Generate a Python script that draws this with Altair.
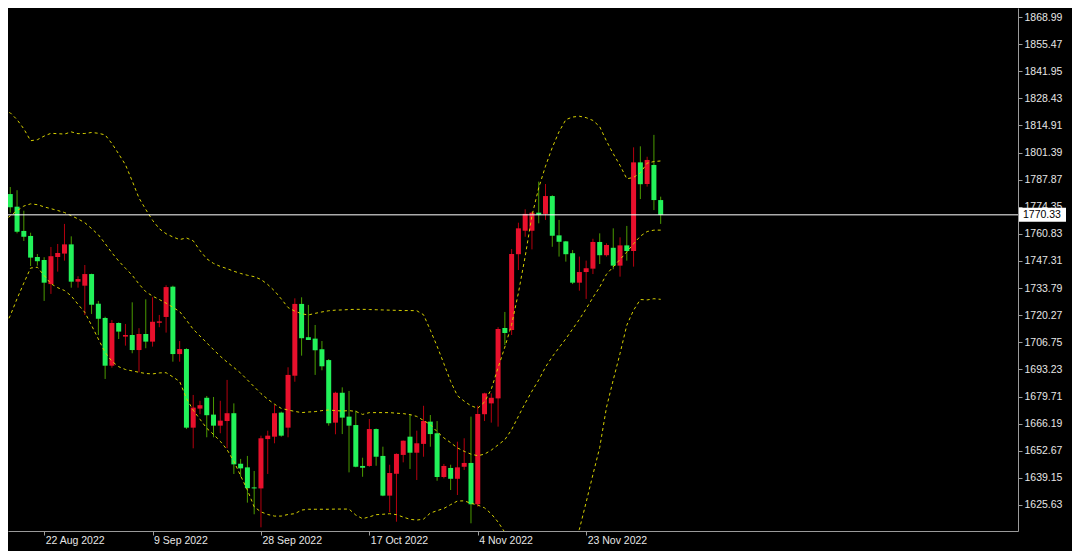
import altair as alt
import pandas as pd

# ---------------- data ----------------
opens = [1799.8, 1780.7, 1774.4, 1762.3, 1759.8, 1749.3, 1747.8, 1735.8, 1749.3, 1751.0,
         1755.6, 1737.0, 1735.0, 1740.8, 1726.0, 1718.9, 1695.1, 1716.4, 1709.6, 1710.4,
         1702.9, 1710.9, 1707.1, 1716.5, 1719.4, 1734.5, 1700.9, 1703.4, 1664.2, 1673.7,
         1679.1, 1670.7, 1665.2, 1667.5, 1671.4, 1646.2, 1644.4, 1634.4, 1633.9, 1658.5,
         1659.7, 1671.7, 1664.2, 1690.1, 1725.9, 1709.3, 1708.6, 1703.3, 1697.9, 1666.7,
         1681.6, 1669.7, 1665.5, 1645.1, 1645.1, 1663.5, 1650.1, 1630.3, 1641.2, 1650.6,
         1659.7, 1651.7, 1656.1, 1667.2, 1661.4, 1639.6, 1644.1, 1638.7, 1644.7, 1646.6,
         1626.0, 1670.9, 1676.3, 1678.8, 1713.9, 1712.9, 1750.7, 1762.4, 1762.4, 1771.4,
         1770.8, 1779.7, 1760.1, 1757.1, 1751.2, 1736.5, 1741.8, 1743.5, 1756.8, 1750.2,
         1753.9, 1745.0, 1755.1, 1752.3, 1796.5, 1785.7, 1795.2, 1777.7]
highs = [1801.5, 1784.2, 1782.6, 1772.4, 1761.4, 1750.8, 1749.2, 1754.3, 1755.8, 1765.8,
         1759.6, 1739.7, 1745.3, 1741.0, 1727.4, 1719.5, 1717.9, 1716.7, 1715.9, 1726.7,
         1713.8, 1728.2, 1729.2, 1720.4, 1735.2, 1735.0, 1707.4, 1703.8, 1680.5, 1677.6,
         1680.0, 1679.5, 1677.6, 1688.0, 1676.3, 1648.6, 1650.1, 1642.6, 1660.2, 1662.7,
         1675.5, 1672.2, 1694.3, 1728.7, 1729.2, 1725.4, 1715.4, 1707.4, 1698.4, 1682.1,
         1684.3, 1682.5, 1672.7, 1649.2, 1668.5, 1663.8, 1654.7, 1645.7, 1651.4, 1657.8,
         1670.9, 1662.7, 1675.1, 1670.5, 1667.5, 1646.1, 1645.7, 1657.2, 1658.9, 1669.7,
         1675.1, 1681.6, 1681.3, 1714.3, 1721.9, 1753.3, 1766.4, 1773.1, 1771.9, 1786.9,
         1785.7, 1780.1, 1767.8, 1757.3, 1752.8, 1749.5, 1747.5, 1758.4, 1761.1, 1756.1,
         1763.6, 1759.1, 1764.8, 1804.0, 1804.5, 1799.3, 1810.2, 1779.4]
lows = [1772.4, 1771.4, 1761.1, 1757.3, 1744.8, 1745.0, 1727.4, 1730.9, 1742.0, 1747.5,
        1734.0, 1734.0, 1720.4, 1720.9, 1710.4, 1688.5, 1694.1, 1708.4, 1705.1, 1701.3,
        1691.8, 1703.8, 1704.6, 1714.3, 1711.6, 1697.1, 1697.1, 1663.5, 1653.9, 1670.9,
        1659.4, 1659.4, 1661.4, 1653.9, 1641.1, 1639.7, 1626.8, 1621.0, 1614.5, 1641.1,
        1656.4, 1659.7, 1659.4, 1687.1, 1700.1, 1707.9, 1690.5, 1692.8, 1665.2, 1660.9,
        1661.0, 1641.9, 1644.4, 1639.7, 1644.7, 1645.2, 1630.0, 1622.0, 1617.3, 1646.9,
        1643.6, 1638.1, 1649.7, 1654.7, 1637.7, 1638.9, 1633.1, 1630.6, 1643.1, 1616.5,
        1624.8, 1667.5, 1666.7, 1664.7, 1705.4, 1710.4, 1742.8, 1759.4, 1753.1, 1766.1,
        1767.8, 1754.4, 1749.5, 1747.0, 1735.8, 1732.5, 1728.4, 1740.8, 1745.8, 1749.5,
        1743.2, 1739.5, 1747.5, 1744.5, 1778.2, 1784.4, 1772.7, 1765.8]
closes = [1780.6, 1774.1, 1761.9, 1759.4, 1749.0, 1747.2, 1736.5, 1749.7, 1751.3, 1755.6,
          1737.0, 1738.3, 1740.8, 1725.5, 1718.5, 1695.1, 1716.4, 1712.1, 1710.4, 1702.9,
          1710.9, 1707.1, 1717.0, 1717.2, 1734.3, 1700.9, 1703.4, 1664.2, 1674.2, 1675.4,
          1670.4, 1665.2, 1667.7, 1671.4, 1645.9, 1643.9, 1634.0, 1633.9, 1658.9, 1660.2,
          1671.4, 1660.2, 1690.5, 1725.9, 1708.8, 1707.9, 1702.8, 1694.8, 1666.4, 1681.6,
          1669.2, 1665.2, 1644.7, 1644.2, 1663.5, 1649.7, 1630.3, 1641.6, 1651.1, 1657.7,
          1651.7, 1656.4, 1667.5, 1661.0, 1639.6, 1645.1, 1638.7, 1644.4, 1646.6, 1626.0,
          1671.0, 1681.3, 1679.1, 1713.4, 1711.4, 1750.8, 1763.6, 1770.8, 1771.4, 1770.4,
          1779.7, 1759.9, 1756.9, 1750.7, 1736.5, 1741.8, 1743.7, 1756.8, 1750.2, 1755.3,
          1745.0, 1755.1, 1752.3, 1796.5, 1785.6, 1797.7, 1777.7, 1770.3]

upper_band = [1822.1, 1821.2, 1817.8, 1813.2, 1807.3, 1807.8, 1809.6, 1811.0, 1810.8, 1810.6,
              1811.7, 1810.8, 1810.9, 1811.4, 1811.0, 1810.2, 1805.9, 1800.7, 1795.3, 1787.2,
              1778.7, 1773.0, 1767.6, 1763.4, 1760.9, 1759.3, 1758.0, 1758.8, 1757.4, 1752.5,
              1748.4, 1746.1, 1744.6, 1743.5, 1742.2, 1741.1, 1740.2, 1739.5, 1738.1, 1735.6,
              1732.4, 1728.4, 1724.1, 1722.3, 1721.0, 1720.4, 1721.2, 1721.9, 1722.5, 1722.8,
              1722.9, 1723.1, 1723.2, 1723.2, 1723.1, 1723.0, 1722.9, 1722.8, 1722.7, 1722.6,
              1722.6, 1722.5, 1720.5, 1712.8, 1704.8, 1696.1, 1687.2, 1680.1, 1677.4, 1675.1,
              1673.9, 1677.0, 1683.4, 1694.1, 1704.4, 1715.6, 1731.4, 1749.6, 1769.9, 1783.8,
              1794.6, 1803.9, 1811.8, 1817.8, 1819.1, 1819.5, 1818.8, 1817.4, 1814.3, 1807.1,
              1800.8, 1795.0, 1788.3, 1789.0, 1791.3, 1796.1, 1796.9, 1797.2]
middle_band = [1767.3, 1769.8, 1772.4, 1774.7, 1775.8, 1775.4, 1774.3, 1773.4, 1772.5, 1771.5,
               1769.9, 1768.3, 1766.4, 1763.5, 1760.4, 1756.0, 1751.4, 1747.3, 1743.7, 1740.2,
               1735.8, 1732.0, 1729.8, 1728.1, 1726.3, 1724.2, 1722.1, 1717.8, 1713.3, 1709.9,
               1706.5, 1703.1, 1699.8, 1696.9, 1694.2, 1691.4, 1688.0, 1684.6, 1681.2, 1678.4,
               1675.9, 1673.8, 1673.0, 1672.3, 1671.7, 1672.0, 1672.2, 1672.7, 1673.0, 1672.7,
               1672.5, 1672.7, 1672.3, 1670.8, 1671.7, 1671.7, 1671.7, 1671.7, 1671.4, 1671.2,
               1670.7, 1669.8, 1667.8, 1665.7, 1662.2, 1659.1, 1656.7, 1654.1, 1652.4, 1651.0,
               1650.2, 1651.0, 1653.0, 1655.6, 1658.2, 1663.2, 1669.9, 1676.4, 1682.4, 1688.0,
               1694.4, 1699.6, 1704.1, 1708.5, 1713.4, 1718.2, 1723.5, 1729.1, 1734.3, 1740.7,
               1744.4, 1748.1, 1751.8, 1755.9, 1759.7, 1762.0, 1762.7, 1762.7]
lower_band = [1713.4, 1720.1, 1728.5, 1736.3, 1743.8, 1744.2, 1740.1, 1736.0, 1734.0, 1732.6,
              1729.9, 1725.7, 1721.7, 1715.2, 1708.4, 1701.7, 1697.3, 1694.6, 1693.2, 1692.5,
              1691.8, 1691.2, 1691.0, 1691.5, 1691.6, 1689.5, 1687.2, 1678.8, 1672.9, 1668.4,
              1663.9, 1660.8, 1657.4, 1653.2, 1647.4, 1640.2, 1633.1, 1624.7, 1622.2, 1620.9,
              1620.1, 1620.1, 1620.9, 1621.3, 1623.1, 1623.5, 1623.5, 1623.5, 1623.5, 1623.6,
              1623.6, 1623.6, 1620.6, 1618.8, 1619.7, 1620.8, 1621.0, 1621.3, 1620.8, 1619.6,
              1618.5, 1618.1, 1618.6, 1621.6, 1622.8, 1623.9, 1625.8, 1627.6, 1627.7, 1626.5,
              1625.6, 1624.2, 1621.2, 1617.1, 1612.0, 1610.8, 1608.5, 1603.2, 1594.9, 1592.2,
              1594.2, 1595.3, 1596.4, 1599.2, 1607.7, 1613.5, 1627.0, 1640.8, 1654.3, 1674.3,
              1688.0, 1701.2, 1715.3, 1722.8, 1728.1, 1727.9, 1728.5, 1728.2]

date_ticks = [6, 22, 38, 54, 70, 86]
date_labels = ["22 Aug 2022", "9 Sep 2022", "28 Sep 2022", "17 Oct 2022", "4 Nov 2022", "23 Nov 2022"]
price_ticks = [1868.99, 1855.47, 1841.95, 1828.43, 1814.91, 1801.39, 1787.87, 1774.35, 1760.83,
               1747.31, 1733.79, 1720.27, 1706.75, 1693.23, 1679.71, 1666.19, 1652.67, 1639.15, 1625.63]
last_price = 1770.33

# ---------------- tables ----------------
n = len(opens)
candles = pd.DataFrame({"idx": list(range(n)), "open": opens, "high": highs, "low": lows, "close": closes})
bands = pd.DataFrame({"idx": list(range(n)), "upper": upper_band, "middle": middle_band, "lower": lower_band})
last = pd.DataFrame({"price": [last_price], "label": [f"{last_price:.2f}"]})

FONT = "Liberation Sans"
AXIS_COL = "#9a9a9a"
RED_BODY = "#e8102c"
GREEN_BODY = "#22f25a"
RED_WICK = "#b4000f"
GREEN_WICK = "#4a9a00"

label_expr = "".join(f"datum.value == {t} ? '{l}' : " for t, l in zip(date_ticks, date_labels)) + "''"

xscale = alt.Scale(domain=[0.664, 149.74], nice=False, zero=False, padding=0)
yscale = alt.Scale(domain=[1612.66, 1873.48], nice=False, zero=False, padding=0)

x_axis = alt.Axis(values=date_ticks, labelExpr=label_expr, orient="bottom", title=None,
                  labelAlign="left", labelOffset=1, labelPadding=0, tickSize=4,
                  grid=False, labelFlush=False, labelOverlap=False)
y_axis = alt.Axis(values=price_ticks, format=".2f", orient="right", title=None,
                  tickSize=4, labelPadding=2, grid=False, labelOverlap=False, labelFlush=False)


def X(field):
    return alt.X(field, scale=xscale, axis=x_axis)


def Y(field):
    return alt.Y(field, scale=yscale, axis=y_axis)


up_test = "datum.close >= datum.open"

base = alt.Chart(candles)

wicks = base.mark_rule(strokeWidth=1).encode(
    x=X("idx:Q"),
    y=Y("low:Q"),
    y2="high:Q",
    color=alt.condition(up_test, alt.value(RED_WICK), alt.value(GREEN_WICK)),
)

bodies = base.mark_bar(size=5).encode(
    x=X("idx:Q"),
    y=Y("open:Q"),
    y2="close:Q",
    color=alt.condition(up_test, alt.value(RED_BODY), alt.value(GREEN_BODY)),
)

band_lines = alt.Chart(bands).transform_fold(
    ["upper", "middle", "lower"], as_=["band", "value"]
).mark_line(color="#d6d000", strokeWidth=1, strokeDash=[3, 3], clip=True).encode(
    x=X("idx:Q"),
    y=Y("value:Q"),
    detail="band:N",
)

price_line = alt.Chart(last).mark_rule(color="white", strokeWidth=1).encode(
    y=Y("price:Q"),
    x=alt.value(0),
    x2=alt.value(1010),
)

price_box = alt.Chart(last).mark_rect(color="white", yOffset=-7, y2Offset=7).encode(
    y=Y("price:Q"),
    y2="price:Q",
    x=alt.value(1011),
    x2=alt.value(1058),
)

price_text = alt.Chart(last).mark_text(color="black", align="left", baseline="middle",
                                        font=FONT, fontSize=10.5).encode(
    y=Y("price:Q"),
    x=alt.value(1015),
    text="label:N",
)

chart = alt.layer(wicks, bodies, band_lines, price_line, price_box, price_text).properties(
    width=1010,
    height=523,
    autosize=alt.AutoSizeParams(type="none"),
    padding={"left": 0, "top": 0, "right": 54, "bottom": 20},
    background="black",
).configure_view(stroke=None).configure_axis(
    labelColor="#e6e6e6",
    labelFont=FONT,
    labelFontSize=10.5,
    tickColor=AXIS_COL,
    domainColor=AXIS_COL,
    domainWidth=1,
    tickWidth=1,
    labelOverlap=False,
)

chart.save("out.html", embed_options={"renderer": "svg", "actions": False})
